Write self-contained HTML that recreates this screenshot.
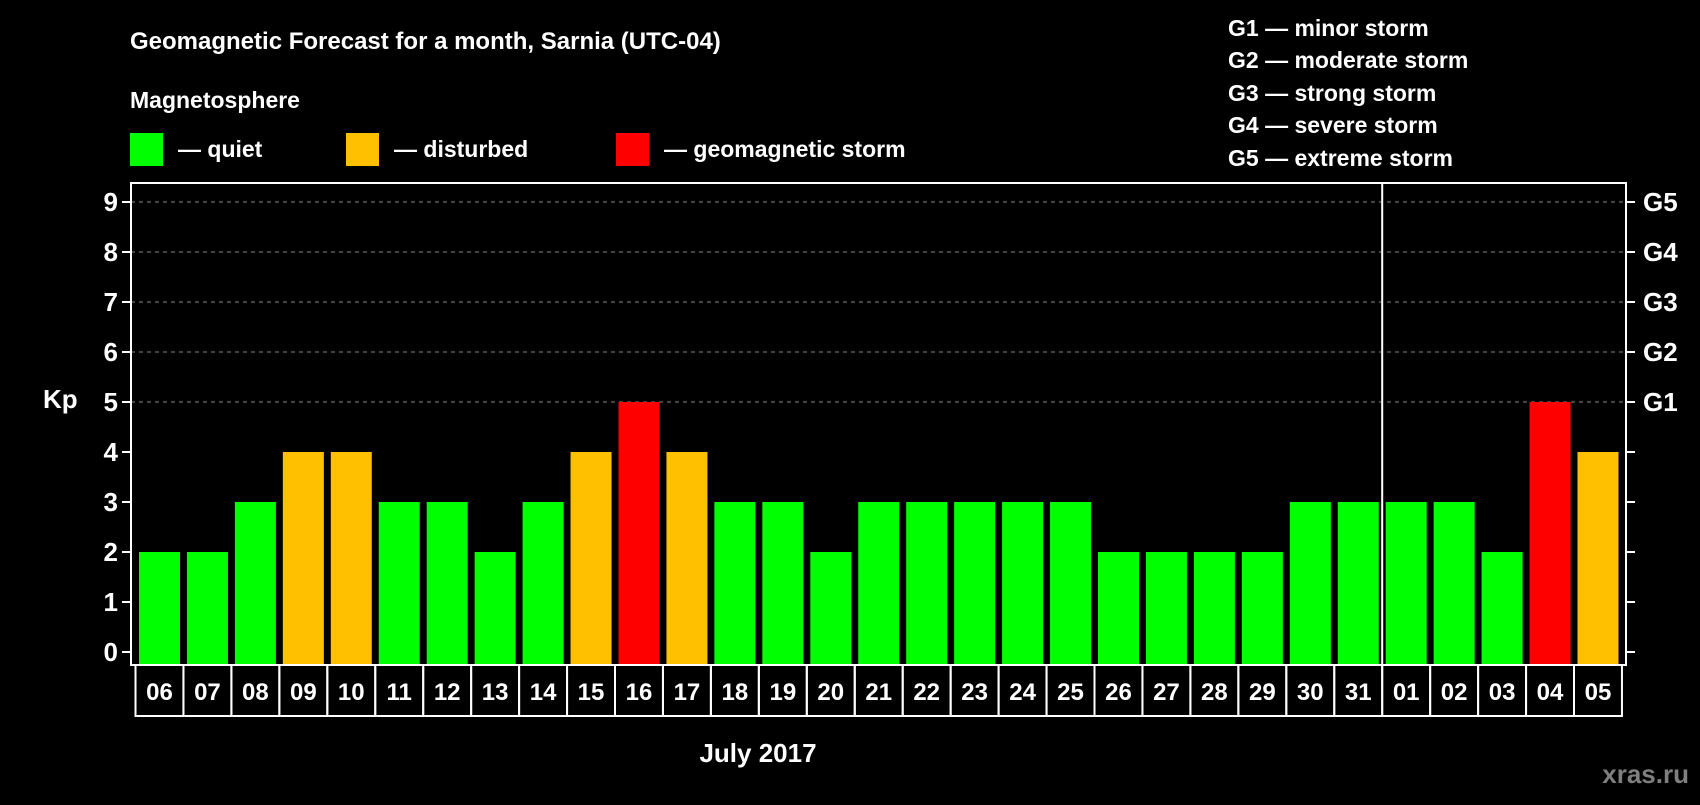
<!DOCTYPE html>
<html><head><meta charset="utf-8"><style>
body{margin:0;background:#000;width:1700px;height:800px;overflow:hidden;font-family:"Liberation Sans",sans-serif;font-weight:bold;color:#fff}
</style></head><body>
<svg id="c" width="1700" height="800" xmlns="http://www.w3.org/2000/svg" font-family="Liberation Sans, sans-serif" font-weight="bold">
<text x="130" y="49" font-size="24" fill="#fff">Geomagnetic Forecast for a month, Sarnia (UTC-04)</text>
<text x="130" y="108" font-size="23" fill="#fff">Magnetosphere</text>
<rect x="130" y="133" width="33" height="33" fill="#00ff00"/>
<text x="178" y="157" font-size="23" fill="#fff">— quiet</text>
<rect x="346" y="133" width="33" height="33" fill="#ffc000"/>
<text x="394" y="157" font-size="23" fill="#fff">— disturbed</text>
<rect x="616" y="133" width="33" height="33" fill="#ff0000"/>
<text x="664" y="157" font-size="23" fill="#fff">— geomagnetic storm</text>
<g font-size="23" fill="#fff">
<text x="1228" y="36">G1 — minor storm</text>
<text x="1228" y="68">G2 — moderate storm</text>
<text x="1228" y="101">G3 — strong storm</text>
<text x="1228" y="133">G4 — severe storm</text>
<text x="1228" y="166">G5 — extreme storm</text>
</g>
<text x="43" y="408" font-size="26" fill="#fff">Kp</text>
<text x="758" y="762" font-size="26" fill="#fff" text-anchor="middle">July 2017</text>
<text x="1689" y="783" font-size="26" fill="#7f7f7f" text-anchor="end">xras.ru</text>
<g id="grid"></g><g id="bars"></g><g id="axes"></g>
</svg>
<script>
const days=["06","07","08","09","10","11","12","13","14","15","16","17","18","19","20","21","22","23","24","25","26","27","28","29","30","31","01","02","03","04","05"];
const kp=[2,2,3,4,4,3,3,2,3,4,5,4,3,3,2,3,3,3,3,3,2,2,2,2,3,3,3,3,2,5,4];
const yTicks=[0,1,2,3,4,5,6,7,8,9];
const gLabels=["G1","G2","G3","G4","G5"];
const gLevels=[5,6,7,8,9];
const monthBreakIndex=26;
const NS="http://www.w3.org/2000/svg";
const L=131,R=1626,T=183,B=665,x0=139,pitch=47.95,bw=41;
const y=v=>652-v*50;
const xb=i=>x0+i*pitch;
function mk(t,a,p){const e=document.createElementNS(NS,t);for(const k in a)e.setAttribute(k,a[k]);p.appendChild(e);return e;}
const grid=document.getElementById('grid'),bars=document.getElementById('bars'),axes=document.getElementById('axes');
yTicks.forEach(v=>{
 if(v>=5){const g=mk('line',{x1:L,x2:R,y1:y(v),y2:y(v),stroke:'#888','stroke-dasharray':'4,4','stroke-width':1},grid);
 
 }
 const tl=mk('line',{x1:L-9,x2:L,y1:y(v),y2:y(v),stroke:'#fff','stroke-width':2},axes);
 
 
 const tr=mk('line',{x1:R,x2:R+9,y1:y(v),y2:y(v),stroke:'#fff','stroke-width':2},axes);
 
 
 const t=mk('text',{x:L-13,y:y(v)+9,'font-size':26,fill:'#fff','text-anchor':'end'},axes);t.textContent=v;
 
 
});
gLevels.forEach((v,i)=>{const t=mk('text',{x:1643,y:y(v)+9,'font-size':26,fill:'#fff'},axes);t.textContent=gLabels[i];
 
 });
kp.forEach((v,i)=>{
 const c=v>=5?'#ff0000':v>=4?'#ffc000':'#00ff00';
 const r=mk('rect',{x:xb(i),y:y(v),width:bw,height:y(0)-y(v)+13,fill:c},bars);
 
 
 const bx=135.5+i*pitch;
 const b=mk('rect',{x:bx,y:B,width:pitch,height:51,fill:'none',stroke:'#fff','stroke-width':2},axes);
 
 
 const t=mk('text',{x:bx+pitch/2,y:B+35,'font-size':24,fill:'#fff','text-anchor':'middle'},axes);t.textContent=days[i];
 
 
});
const sx=xb(monthBreakIndex)-3.5;
const s=mk('line',{x1:sx,x2:sx,y1:T,y2:B,stroke:'#fff','stroke-width':2},axes);


const f=mk('rect',{x:L,y:T,width:R-L,height:B-T,fill:'none',stroke:'#fff','stroke-width':2},axes);


</script>
</body></html>
